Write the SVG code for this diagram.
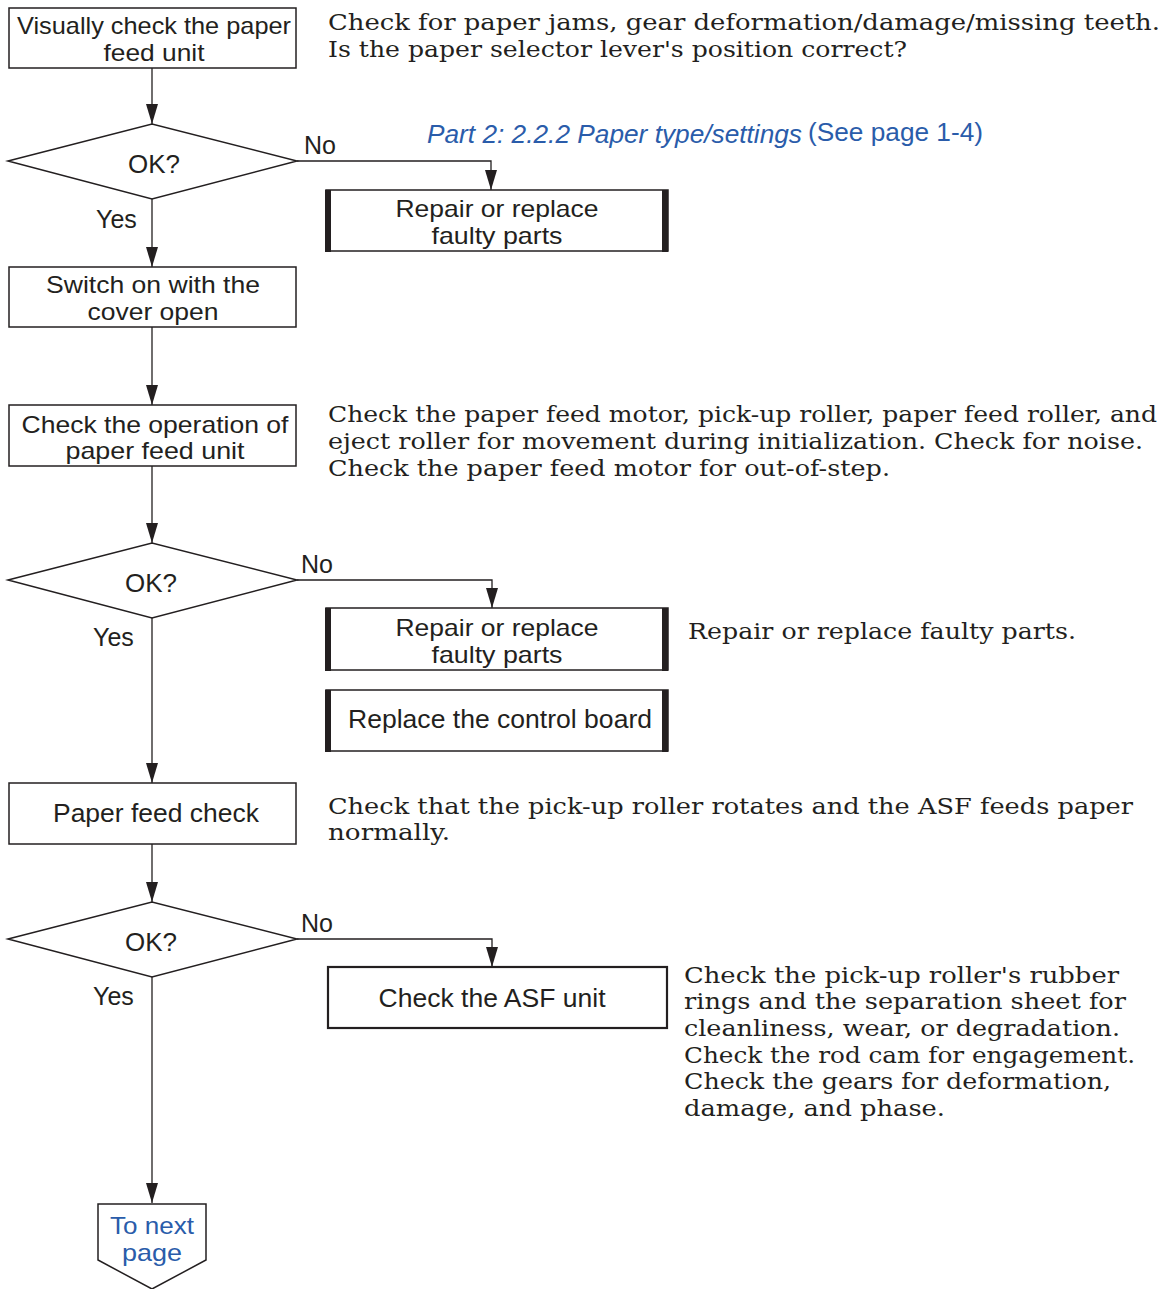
<svg xmlns="http://www.w3.org/2000/svg" width="1170" height="1289" viewBox="0 0 1170 1289">
<defs>
<style>
.box{fill:#fff;stroke:#231f20;stroke-width:1.5}
.act{fill:#fff;stroke:#231f20;stroke-width:1.5}
.bar{fill:#231f20}
.asf{fill:#fff;stroke:#231f20;stroke-width:2.2}
.t{font-family:"Liberation Sans",Arial,sans-serif;font-size:26px;fill:#231f20;text-anchor:middle}
.t2{font-family:"Liberation Sans",Arial,sans-serif;font-size:24px;fill:#231f20;text-anchor:middle}
.lbl{font-family:"Liberation Sans",Arial,sans-serif;font-size:25px;fill:#231f20}
.d{font-family:"DejaVu Serif","Liberation Serif",serif;font-size:23px;fill:#231f20}
.link{font-family:"Liberation Sans",Arial,sans-serif;font-size:25px;fill:#2a5caa}
.ln{fill:none;stroke:#231f20;stroke-width:1.3}
</style>
<marker id="ah" viewBox="0 0 20 12" refX="20" refY="6" markerWidth="20" markerHeight="12" markerUnits="userSpaceOnUse" orient="auto">
<path d="M0,0 L20,6 L0,12 z" fill="#231f20"/>
</marker>
</defs>

<g id="connectors">
<line class="ln" x1="152" y1="68" x2="152" y2="124" marker-end="url(#ah)"/>
<line class="ln" x1="152" y1="199" x2="152" y2="267" marker-end="url(#ah)"/>
<polyline class="ln" points="297,161 491,161 491,190" marker-end="url(#ah)"/>
<line class="ln" x1="152" y1="327" x2="152" y2="405" marker-end="url(#ah)"/>
<line class="ln" x1="152" y1="466" x2="152" y2="543" marker-end="url(#ah)"/>
<polyline class="ln" points="297,580 492,580 492,608" marker-end="url(#ah)"/>
<line class="ln" x1="152" y1="618" x2="152" y2="783" marker-end="url(#ah)"/>
<line class="ln" x1="152" y1="844" x2="152" y2="902" marker-end="url(#ah)"/>
<polyline class="ln" points="297,939 492,939 492,967" marker-end="url(#ah)"/>
<line class="ln" x1="152" y1="977" x2="152" y2="1203" marker-end="url(#ah)"/>
<text class="lbl" x="304" y="154">No</text>
<text class="lbl" x="96" y="228">Yes</text>
<text class="lbl" x="301" y="573">No</text>
<text class="lbl" x="93" y="646">Yes</text>
<text class="lbl" x="301" y="932">No</text>
<text class="lbl" x="93" y="1005">Yes</text>
</g>

<g id="n1">
<rect class="box" x="9" y="8" width="287" height="60"/>
<text class="t2" x="154" y="34" textLength="274" lengthAdjust="spacingAndGlyphs">Visually check the paper</text>
<text class="t2" x="154" y="61" textLength="101" lengthAdjust="spacingAndGlyphs">feed unit</text>
</g>
<g id="note1">
<text class="d" x="328" y="30" textLength="832" lengthAdjust="spacingAndGlyphs">Check for paper jams, gear deformation/damage/missing teeth.</text>
<text class="d" x="328" y="57" textLength="579" lengthAdjust="spacingAndGlyphs">Is the paper selector lever's position correct?</text>
</g>

<g id="d1">
<polygon class="box" points="8,161 152,124 297,161 152,199"/>
<text class="t" x="154" y="173" textLength="52" lengthAdjust="spacingAndGlyphs">OK?</text>
</g>

<g id="link1">
<text class="link" x="427" y="143" font-style="italic" textLength="375" lengthAdjust="spacingAndGlyphs">Part 2: 2.2.2 Paper type/settings</text>
<text class="link" x="808" y="141" textLength="175" lengthAdjust="spacingAndGlyphs">(See page 1-4)</text>
</g>

<g id="r1">
<rect class="act" x="326" y="190" width="342" height="61"/>
<rect class="bar" x="325" y="190" width="6" height="62"/>
<rect class="bar" x="662" y="190" width="6" height="62"/>
<text class="t2" x="497" y="217" textLength="203" lengthAdjust="spacingAndGlyphs">Repair or replace</text>
<text class="t2" x="497" y="244" textLength="131" lengthAdjust="spacingAndGlyphs">faulty parts</text>
</g>

<g id="n2">
<rect class="box" x="9" y="267" width="287" height="60"/>
<text class="t2" x="153" y="293" textLength="214" lengthAdjust="spacingAndGlyphs">Switch on with the</text>
<text class="t2" x="153" y="320" textLength="131" lengthAdjust="spacingAndGlyphs">cover open</text>
</g>

<g id="n3">
<rect class="box" x="9" y="405" width="287" height="61"/>
<text class="t2" x="155" y="433" textLength="267" lengthAdjust="spacingAndGlyphs">Check the operation of</text>
<text class="t2" x="155" y="459" textLength="179" lengthAdjust="spacingAndGlyphs">paper feed unit</text>
</g>
<g id="note3">
<text class="d" x="328" y="422" textLength="829" lengthAdjust="spacingAndGlyphs">Check the paper feed motor, pick-up roller, paper feed roller, and</text>
<text class="d" x="328" y="449" textLength="815" lengthAdjust="spacingAndGlyphs">eject roller for movement during initialization. Check for noise.</text>
<text class="d" x="328" y="476" textLength="562" lengthAdjust="spacingAndGlyphs">Check the paper feed motor for out-of-step.</text>
</g>

<g id="d2">
<polygon class="box" points="8,580 152,543 297,580 152,618"/>
<text class="t" x="151" y="592" textLength="52" lengthAdjust="spacingAndGlyphs">OK?</text>
</g>

<g id="r2">
<rect class="act" x="326" y="608" width="342" height="62"/>
<rect class="bar" x="325" y="608" width="6" height="63"/>
<rect class="bar" x="662" y="608" width="6" height="63"/>
<text class="t2" x="497" y="636" textLength="203" lengthAdjust="spacingAndGlyphs">Repair or replace</text>
<text class="t2" x="497" y="663" textLength="131" lengthAdjust="spacingAndGlyphs">faulty parts</text>
</g>
<g id="note_r2">
<text class="d" x="688" y="639" textLength="388" lengthAdjust="spacingAndGlyphs">Repair or replace faulty parts.</text>
</g>

<g id="r3">
<rect class="act" x="326" y="690" width="342" height="61"/>
<rect class="bar" x="325" y="690" width="6" height="62"/>
<rect class="bar" x="662" y="690" width="6" height="62"/>
<text class="t" x="500" y="728" textLength="304" lengthAdjust="spacingAndGlyphs">Replace the control board</text>
</g>

<g id="n4">
<rect class="box" x="9" y="783" width="287" height="61"/>
<text class="t" x="156" y="822" textLength="206" lengthAdjust="spacingAndGlyphs">Paper feed check</text>
</g>
<g id="note4">
<text class="d" x="328" y="814" textLength="805" lengthAdjust="spacingAndGlyphs">Check that the pick-up roller rotates and the ASF feeds paper</text>
<text class="d" x="328" y="840" textLength="122" lengthAdjust="spacingAndGlyphs">normally.</text>
</g>

<g id="d3">
<polygon class="box" points="8,939 152,902 297,939 152,977"/>
<text class="t" x="151" y="951" textLength="52" lengthAdjust="spacingAndGlyphs">OK?</text>
</g>

<g id="r4">
<rect class="asf" x="328" y="967" width="339" height="61"/>
<text class="t" x="492" y="1007" textLength="227" lengthAdjust="spacingAndGlyphs">Check the ASF unit</text>
</g>
<g id="note_r4">
<text class="d" x="684" y="983" textLength="435" lengthAdjust="spacingAndGlyphs">Check the pick-up roller's rubber</text>
<text class="d" x="684" y="1009" textLength="442" lengthAdjust="spacingAndGlyphs">rings and the separation sheet for</text>
<text class="d" x="684" y="1036" textLength="436" lengthAdjust="spacingAndGlyphs">cleanliness, wear, or degradation.</text>
<text class="d" x="684" y="1063" textLength="451" lengthAdjust="spacingAndGlyphs">Check the rod cam for engagement.</text>
<text class="d" x="684" y="1089" textLength="427" lengthAdjust="spacingAndGlyphs">Check the gears for deformation,</text>
<text class="d" x="684" y="1116" textLength="261" lengthAdjust="spacingAndGlyphs">damage, and phase.</text>
</g>

<g id="offpage">
<polygon class="box" points="98,1204 206,1204 206,1260 152,1289 98,1260"/>
<text class="t2" x="152" y="1234" textLength="84" lengthAdjust="spacingAndGlyphs" style="fill:#2a5caa">To next</text>
<text class="t2" x="152" y="1261" textLength="60" lengthAdjust="spacingAndGlyphs" style="fill:#2a5caa">page</text>
</g>
</svg>
